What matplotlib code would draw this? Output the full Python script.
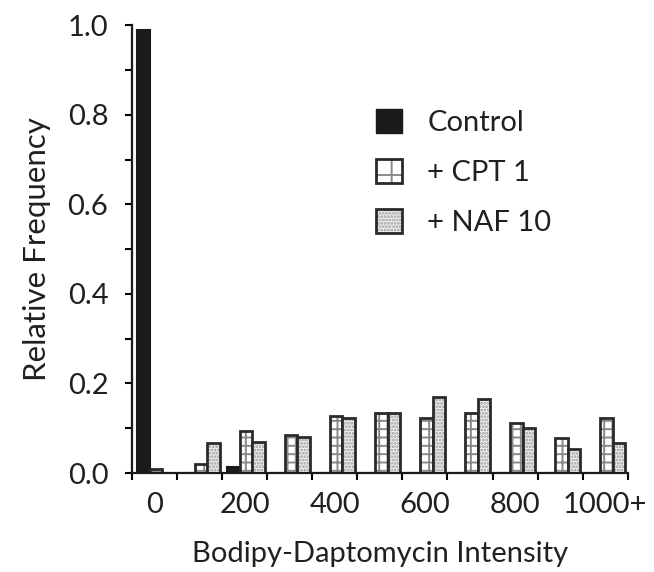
import numpy as np
import matplotlib
matplotlib.use("Agg")
import matplotlib.pyplot as plt
from matplotlib.patches import Patch
from matplotlib.legend_handler import HandlerTuple

plt.rcParams["font.family"] = ["Lato", "DejaVu Sans"]
plt.rcParams["hatch.linewidth"] = 1.4

text_color = "#231f20"

# histogram bins of Bodipy-Daptomycin intensity (0, 100, ..., 1000+)
bins = ["0", "100", "200", "300", "400", "500", "600", "700", "800", "900", "1000+"]
control = [0.99, 0.0, 0.013, 0.0, 0.0, 0.0, 0.0, 0.0, 0.0, 0.0, 0.0]
cpt1 = [0.01, 0.02, 0.094, 0.085, 0.128, 0.135, 0.123, 0.135, 0.112, 0.079, 0.123]
naf10 = [0.0, 0.068, 0.07, 0.08, 0.123, 0.135, 0.17, 0.166, 0.10, 0.054, 0.068]

y_ticks = [0.0, 0.2, 0.4, 0.6, 0.8, 1.0]

fig = plt.figure(figsize=(6.54, 5.72), dpi=100)
ax = fig.add_axes([0.2018, 0.173, 0.758, 0.783])

x = np.arange(len(bins))
w = 0.28
shift = 0.03

# control: solid black
ax.bar(x - w + shift, control, w, color="#1c1a1b", edgecolor="#1c1a1b", linewidth=1.5)

# + CPT 1: white with grey grid
ax.bar(x + shift, cpt1, w, facecolor="white", edgecolor="#8a8a8a", hatch="++", linewidth=0)
ax.bar(x + shift, cpt1, w, fill=False, edgecolor="#2a2a2a", linewidth=2)

# + NAF 10: light stipple
ax.bar(x + w + shift, naf10, w, facecolor="#f2f2f2", edgecolor="#9a9a9a", hatch=".....", linewidth=0)
ax.bar(x + w + shift, naf10, w, fill=False, edgecolor="#2a2a2a", linewidth=2)

ax.set_xlim(-0.5, len(bins) - 0.5)
ax.set_ylim(0, 1.0)

ax.spines["top"].set_visible(False)
ax.spines["right"].set_visible(False)
for s in ["left", "bottom"]:
    ax.spines[s].set_linewidth(1.6)
    ax.spines[s].set_color("#1a1a1a")

# x: labels at every other bin centre, tick marks at bin edges
ax.set_xticks(x[::2])
ax.set_xticklabels(bins[::2])
ax.set_xticks(np.arange(len(bins) + 1) - 0.5, minor=True)
ax.tick_params(axis="x", which="major", length=0, pad=14)
ax.tick_params(axis="x", which="minor", length=5, width=1.5, direction="out")

ax.set_yticks(y_ticks)
ax.set_yticklabels(["%.1f" % v for v in y_ticks])
ax.set_yticks(np.arange(0.1, 1.0, 0.2), minor=True)
ax.tick_params(axis="y", which="both", length=5, width=1.5, direction="out", pad=12)

ax.tick_params(labelsize=21, labelcolor=text_color)

ax.set_xlabel("Bodipy-Daptomycin Intensity", fontsize=21, color=text_color, labelpad=16)
ax.set_ylabel("Relative Frequency", fontsize=22.5, color=text_color, labelpad=12)

h_control = Patch(facecolor="#1c1a1b", edgecolor="#1c1a1b")
h_cpt = (Patch(facecolor="white", edgecolor="#8a8a8a", hatch="+", linewidth=0),
         Patch(fill=False, edgecolor="#2a2a2a", linewidth=2))
h_naf = (Patch(facecolor="#f2f2f2", edgecolor="#9a9a9a", hatch=".....", linewidth=0),
         Patch(fill=False, edgecolor="#2a2a2a", linewidth=2))

leg = ax.legend([h_control, h_cpt, h_naf], ["Control", "+ CPT 1", "+ NAF 10"],
                handler_map={tuple: HandlerTuple(ndivide=1)},
                loc="upper left", bbox_to_anchor=(0.553, 0.835), bbox_transform=fig.transFigure,
                frameon=False, fontsize=21, handlelength=0.9, handleheight=0.9,
                handletextpad=0.85, labelspacing=0.78, borderpad=0)
for t in leg.get_texts():
    t.set_color(text_color)

fig.savefig("out.png", dpi=100)
